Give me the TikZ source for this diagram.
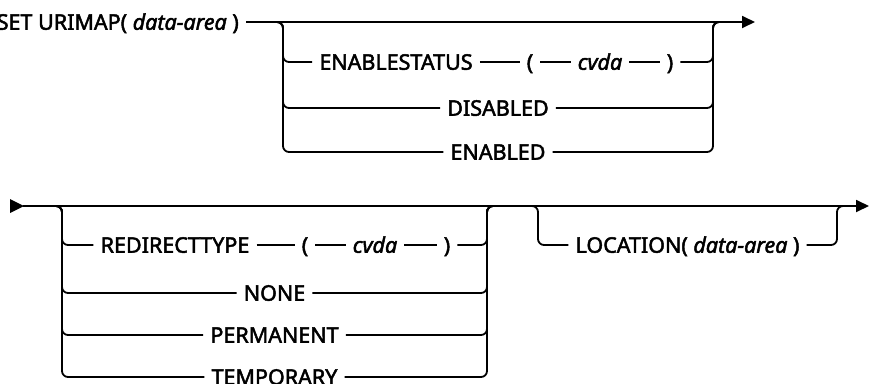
\documentclass[tikz,border=0pt]{standalone}
\usepackage{fontspec}
\setmainfont[FakeBold=2.2]{Noto Sans}
\usetikzlibrary{arrows.meta,positioning}

\begin{document}
\begin{tikzpicture}[x=1pt, y=-1pt,
    rail/.style={line width=1.8pt, rounded corners=6pt},
    kw/.style={inner xsep=7pt, inner ysep=0pt, text height=15.5pt, text depth=0pt,
        font=\fontsize{21.5}{26}\selectfont},
    tip/.style={-{Triangle[length=13pt, width=12pt]}}]
    \useasboundingbox (0,0) rectangle (870,383);

    % first line
    \node[kw, anchor=east] (title) at (246,22) {SET URIMAP( \textit{data-area} )};
    \coordinate (end1) at (755,22);
    \coordinate (g1l) at (283,22);
    \coordinate (g1r) at (713,22);
    \draw[rail, tip] (title) -- (end1);

    \node[kw] (es) at (396,62) {ENABLESTATUS};
    \node[kw] (lp1) at (530,62) {(};
    \node[kw] (cv1) at (600,62) {\textit{cvda}};
    \node[kw] (rp1) at (670,62) {)};
    \node[kw] (dis) at (498,108) {DISABLED};
    \node[kw] (ena) at (498,152) {ENABLED};

    \draw[rail] ([xshift=-8pt]g1l) -- (g1l) |- (es);
    \draw[rail] (es) -- (lp1);
    \draw[rail] (lp1) -- (cv1);
    \draw[rail] (cv1) -- (rp1);
    \draw[rail] (rp1) -| (g1r) -- ([xshift=8pt]g1r);
    \draw[rail] ([xshift=-8pt]g1l) -- (g1l) |- (dis);
    \draw[rail] (dis) -| (g1r) -- ([xshift=8pt]g1r);
    \draw[rail] ([xshift=-8pt]g1l) -- (g1l) |- (ena);
    \draw[rail] (ena) -| (g1r) -- ([xshift=8pt]g1r);

    % second line
    \coordinate (cont) at (10,206);
    \coordinate (end2) at (869,206);
    \coordinate (g2l) at (62,206);
    \coordinate (g2r) at (487,206);
    \coordinate (g3l) at (538,206);
    \coordinate (g3r) at (837,206);
    \fill (cont) ++(0,-7) -- ++(14,7) -- ++(-14,7) -- cycle;
    \draw[rail, tip] ([xshift=13pt]cont) -- (end2);

    \node[kw] (rt) at (175,245) {REDIRECTTYPE};
    \node[kw] (lp2) at (305,245) {(};
    \node[kw] (cv2) at (375,245) {\textit{cvda}};
    \node[kw] (rp2) at (447,245) {)};
    \node[kw] (none) at (274.5,293) {NONE};
    \node[kw] (perm) at (274.5,335) {PERMANENT};
    \node[kw] (temp) at (274.5,377) {TEMPORARY};

    \draw[rail] ([xshift=-8pt]g2l) -- (g2l) |- (rt);
    \draw[rail] (rt) -- (lp2);
    \draw[rail] (lp2) -- (cv2);
    \draw[rail] (cv2) -- (rp2);
    \draw[rail] (rp2) -| (g2r) -- ([xshift=8pt]g2r);
    \draw[rail] ([xshift=-8pt]g2l) -- (g2l) |- (none);
    \draw[rail] (none) -| (g2r) -- ([xshift=8pt]g2r);
    \draw[rail] ([xshift=-8pt]g2l) -- (g2l) |- (perm);
    \draw[rail] (perm) -| (g2r) -- ([xshift=8pt]g2r);
    \draw[rail] ([xshift=-8pt]g2l) -- (g2l) |- (temp);
    \draw[rail] (temp) -| (g2r) -- ([xshift=8pt]g2r);

    % optional location
    \node[kw] (loc) at (687.5,245) {LOCATION( \textit{data-area} )};
    \draw[rail] ([xshift=-8pt]g3l) -- (g3l) |- (loc);
    \draw[rail] (loc) -| (g3r) -- ([xshift=8pt]g3r);
\end{tikzpicture}
\end{document}
